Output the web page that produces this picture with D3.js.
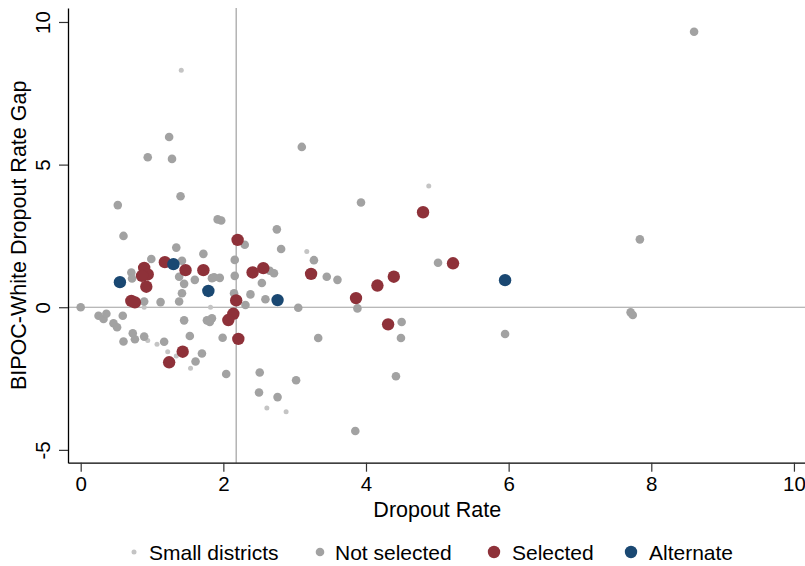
<!DOCTYPE html>
<html>
<head>
<meta charset="utf-8">
<script src="https://cdn.jsdelivr.net/npm/d3@7"></script>
<style>
    body { margin: 0; background: #fff; }
    text { font-family: "Liberation Sans", Arial, Helvetica, sans-serif; }
</style>
</head>
<body>
<div id="container"></div>
<script>
const w = 805,
    h = 566;

// [dropout rate, BIPOC-white gap]
var smallDistricts = [
    [1.41, 8.31], [4.88, 4.25], [3.17, 1.95], [0.89, 0.00], [1.82, 0.00], [0.94, -1.17],
    [1.07, -1.30], [1.22, -1.56], [1.34, -1.71], [1.54, -2.14], [2.61, -3.53], [2.88, -3.66]
];
var notSelected = [
    [8.60, 9.66], [1.24, 5.97], [0.94, 5.26], [1.28, 5.20], [3.10, 5.62], [1.40, 3.89],
    [0.52, 3.58], [1.92, 3.08], [1.97, 3.04], [3.93, 3.67], [0.60, 2.50], [7.84, 2.38],
    [2.30, 2.19], [2.75, 2.73], [2.81, 2.04], [1.34, 2.09], [3.27, 1.65], [1.72, 1.87],
    [0.99, 1.69], [1.42, 1.63], [2.16, 1.66], [5.01, 1.56], [3.45, 1.07], [3.60, 0.96],
    [0.71, 1.22], [0.72, 1.01], [1.38, 1.07], [1.45, 0.82], [1.60, 0.96], [1.84, 1.02],
    [1.87, 1.05], [1.95, 1.03], [2.16, 1.10], [2.65, 1.28], [2.71, 1.19], [2.54, 0.85],
    [1.42, 0.49], [2.15, 0.49], [2.38, 0.45], [2.59, 0.28], [2.31, 0.08], [0.89, 0.20],
    [1.12, 0.18], [1.38, 0.20], [0.00, 0.00], [3.05, -0.02], [3.88, -0.04], [7.71, -0.18],
    [7.74, -0.27], [5.95, -0.94], [4.50, -0.52], [4.49, -1.08], [3.33, -1.08], [0.25, -0.30],
    [0.32, -0.41], [0.36, -0.23], [0.59, -0.30], [0.46, -0.56], [0.51, -0.70], [1.45, -0.46],
    [1.77, -0.46], [1.84, -0.39], [1.81, -0.52], [0.73, -0.91], [0.76, -1.12], [0.60, -1.20],
    [0.89, -1.03], [1.17, -1.21], [1.53, -1.01], [1.99, -1.07], [1.70, -1.62], [1.61, -1.90],
    [2.04, -2.34], [2.51, -2.29], [4.42, -2.42], [3.02, -2.56], [2.50, -2.99], [2.76, -3.15],
    [3.85, -4.34]
];
var selected = [
    [4.80, 3.33], [2.20, 2.36], [1.18, 1.58], [0.89, 1.38], [0.94, 1.15], [0.86, 1.10],
    [1.47, 1.30], [1.72, 1.30], [2.41, 1.22], [2.56, 1.37], [0.92, 0.72], [3.23, 1.17],
    [4.39, 1.07], [4.16, 0.76], [5.22, 1.54], [3.86, 0.32], [4.31, -0.60], [0.71, 0.22],
    [0.76, 0.17], [2.18, 0.24], [2.14, -0.23], [2.07, -0.45], [2.21, -1.11], [1.43, -1.56],
    [1.24, -1.93]
];
var alternate = [
    [0.55, 0.88], [1.30, 1.51], [1.79, 0.57], [2.76, 0.25], [5.95, 0.95]
];
var xTicks = [0, 2, 4, 6, 8, 10];
var yTicks = [-5, 0, 5, 10];
var refX = 2.18,
    refY = 0;
var legendLabels = ["Small districts", "Not selected", "Selected", "Alternate"];

var groups = [
    {data: smallDistricts, r: 2.5, color: "#c4c4c4"},
    {data: notSelected, r: 4.3, color: "#a2a2a2"},
    {data: selected, r: 6.2, color: "#8e3139"},
    {data: alternate, r: 6.2, color: "#1a4872"}
];

var svg = d3
    .select("div#container")
    .append("svg")
    .attr("width", w)
    .attr("height", h)
    .style("background-color", "#fff");

var x = d3.scaleLinear().domain([-0.178, 10.155]).range([68, 805]);
var y = d3.scaleLinear().domain([-5.45, 10.49]).range([462.7, 8]);

// reference lines
svg.append("line")
    .attr("x1", x(refX)).attr("x2", x(refX))
    .attr("y1", y.range()[0]).attr("y2", y.range()[1])
    .style("stroke", "#a0a0a0")
    .style("stroke-width", 1.2);
svg.append("line")
    .attr("x1", x.range()[0]).attr("x2", x.range()[1])
    .attr("y1", y(refY)).attr("y2", y(refY))
    .style("stroke", "#a0a0a0")
    .style("stroke-width", 1.2);

// points
groups.forEach(function (g) {
    svg.append("g")
        .selectAll("circle")
        .data(g.data)
        .enter()
        .append("circle")
        .attr("cx", d => x(d[0]))
        .attr("cy", d => y(d[1]))
        .attr("r", g.r)
        .style("fill", g.color);
});

// axes (plain hyphen for negatives, like the original)
var xAxis = svg.append("g")
    .attr("transform", "translate(0," + y.range()[0] + ")")
    .call(d3.axisBottom(x).tickValues(xTicks).tickFormat(d => String(d)).tickSize(9).tickSizeOuter(0).tickPadding(5));
var yAxis = svg.append("g")
    .attr("transform", "translate(" + x.range()[0] + ",0)")
    .call(d3.axisLeft(y).tickValues(yTicks).tickFormat(d => String(d)).tickSize(9).tickSizeOuter(0));

svg.selectAll(".domain").style("stroke", "#000").style("stroke-width", 1.3);
svg.selectAll(".tick line").style("stroke", "#333").style("stroke-width", 1.2);
svg.selectAll(".tick text")
    .style("font-size", "20.5px")
    .style("fill", "#000")
    .attr("font-family", null);
yAxis.selectAll(".tick text")
    .attr("x", 0)
    .attr("dy", 0)
    .attr("text-anchor", "middle")
    .attr("transform", "translate(-18,0) rotate(-90)");

// axis titles
svg.append("text")
    .attr("x", (x(0) + x(10)) / 2)
    .attr("y", 517)
    .attr("text-anchor", "middle")
    .style("font-size", "21.5px")
    .text("Dropout Rate");
svg.append("text")
    .attr("transform", "translate(26," + ((y.range()[0] + y.range()[1]) / 2) + ") rotate(-90)")
    .attr("text-anchor", "middle")
    .style("font-size", "21.5px")
    .text("BIPOC-White Dropout Rate Gap");

// legend
var legendX = [134, 320, 494, 631];
var legend = svg.append("g").attr("transform", "translate(0,552)");
groups.forEach(function (g, i) {
    legend.append("circle")
        .attr("cx", legendX[i])
        .attr("cy", 0)
        .attr("r", g.r)
        .style("fill", g.color);
    legend.append("text")
        .attr("x", legendX[i] + (i < 2 ? 15 : 18))
        .attr("y", 8)
        .style("font-size", "21px")
        .text(legendLabels[i]);
});
</script>
</body>
</html>
